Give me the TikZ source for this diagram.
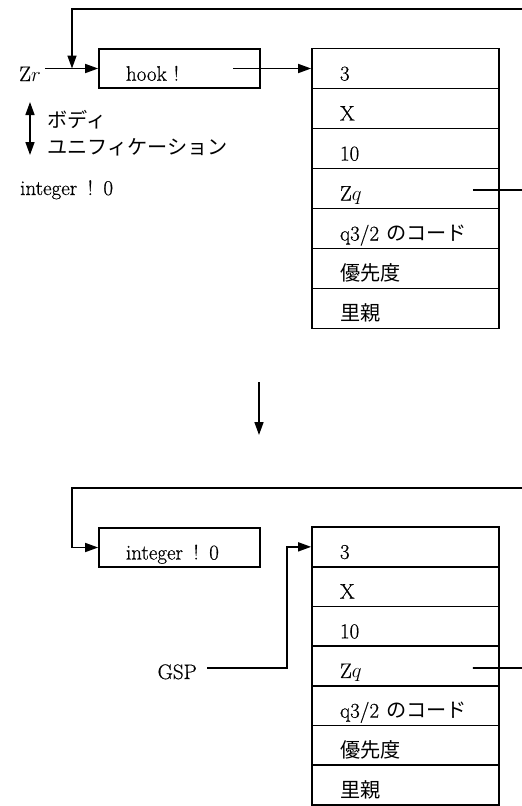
\documentclass[tikz,border=0pt]{standalone}
\usepackage{fontspec}
\setmainfont{Latin Modern Roman}[FakeBold=0.6]
\newfontfamily\jp{Noto Sans CJK JP}[Scale=0.96]
\usetikzlibrary{arrows.meta,calc}
\begin{document}
\begin{tikzpicture}[x=1pt,y=-1pt,
  every node/.style={font=\fontsize{21}{25}\selectfont, inner sep=0pt},
  wire/.style={line width=1.6pt},
  tip/.tip={Triangle[length=13pt,width=9pt]},
  arr/.style={wire, -tip},
  darr/.style={wire, tip-tip},
  box/.style={draw, line width=1.7pt, minimum width=161pt, minimum height=39.5pt,
    text width=107pt, inner xsep=27pt, align=left, text height=24.5pt, text depth=0pt},
  cell/.style={draw, line width=1.7pt, minimum width=187pt, text width=131pt,
    inner xsep=28pt, align=left, text height=24pt, text depth=0pt},
  cellA/.style={cell, minimum height=40pt},
  cellB/.style={cell, minimum height=39.7pt}]
\useasboundingbox (0,0) rectangle (522,806);

% ---------- before ----------
\node[box] (hook) at (179.5,68.5) {hook !};
\node[cellA] (t1) at (405.5,68.5)  {3};
\node[cellA] (t2) at (405.5,108.5) {X};
\node[cellA] (t3) at (405.5,148.5) {10};
\node[cellA] (t4) at (405.5,188.5) {Z$q$};
\node[cellA] (t5) at (405.5,228.5) {q3/2 {\jp のコード}};
\node[cellA] (t6) at (405.5,268.5) {{\jp 優先度}};
\node[cellA] (t7) at (405.5,308.5) {{\jp 里親}};

\node[anchor=base west] (zr) at (19,81) {Z$r$};
\node[anchor=base west] (body) at (47,127) {\jp ボディ};
\node[anchor=base west] (unif) at (47,154) {\jp ユニフィケーション};
\node[anchor=base west] (intlbl) at (20,195) {integer\enspace!\enspace0};

\coordinate (fbA) at (522,9);
\coordinate (fbAturn) at (72,9);
\coordinate (hookptr) at (233,68.5);
\coordinate (ua) at (30,102);
\coordinate (ub) at (30,155);

\draw[arr] ([xshift=4pt]zr.east |- hook.west) -- (hook.west);
\draw[arr] (fbA) -- (fbAturn) -- (fbAturn |- hook.west);
\draw[arr] (hookptr) -- (t1.west);
\draw[wire] ($(t4.east)+(-27,1.5)$) -- (522,190);
\draw[darr] (ua) -- (ub);

% ---------- transition ----------
\coordinate (m1) at (259,382);
\coordinate (m2) at (259,435);
\draw[arr] (m1) -- (m2);

% ---------- after ----------
\node[box, text height=24pt] (ibox) at (179.5,547.5) {integer\enspace!\enspace0};
\node[cellB] (b1) at (405.5,546.85) {3};
\node[cellB] (b2) at (405.5,586.55) {X};
\node[cellB] (b3) at (405.5,626.25) {10};
\node[cellB] (b4) at (405.5,665.95) {Z$q$};
\node[cellB] (b5) at (405.5,705.65) {q3/2 {\jp のコード}};
\node[cellB] (b6) at (405.5,745.35) {{\jp 優先度}};
\node[cellB] (b7) at (405.5,785.05) {{\jp 里親}};

\node[anchor=base east] (gsp) at (197,679) {GSP};

\coordinate (fbB) at (522,488);
\coordinate (fbBturn) at (72,488);
\coordinate (gspturn) at (287,668);

\draw[arr] (fbB) -- (fbBturn) |- (ibox.west);
\draw[arr] ([xshift=10pt]gsp.east |- gspturn) -- (gspturn) |- (b1.west);
\draw[wire] ($(b4.east)+(-27,2)$) -- (522,668);
\end{tikzpicture}
\end{document}
